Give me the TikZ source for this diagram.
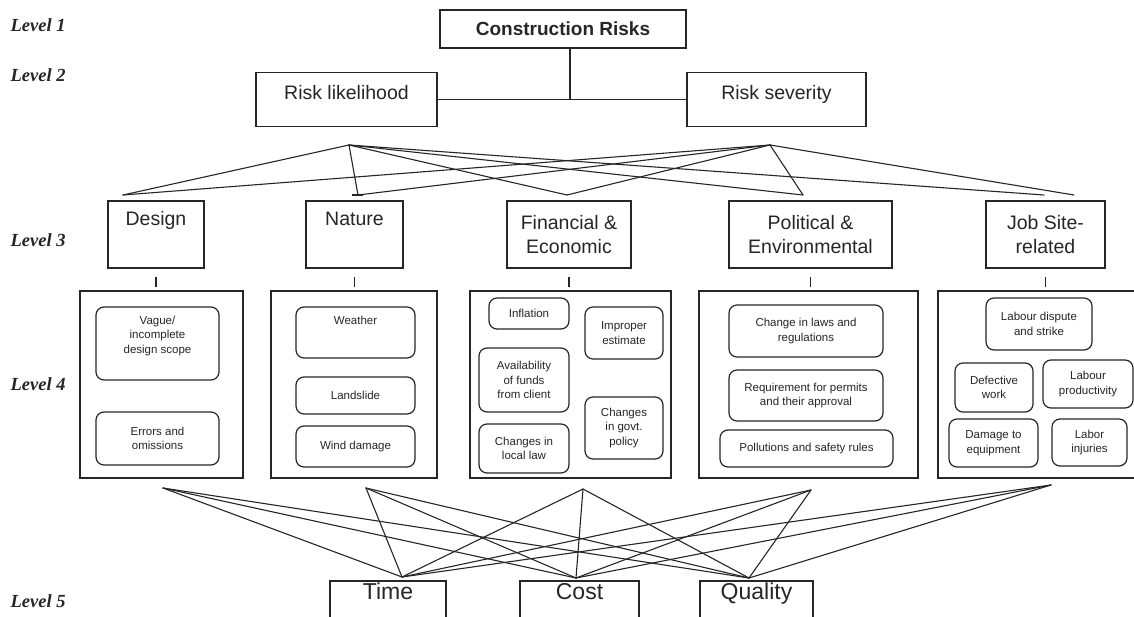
\documentclass[tikz,border=0pt]{standalone}
\usepackage{fontspec}
\setmainfont{Liberation Sans}
\newfontfamily\levelfont{Liberation Serif}

\begin{document}
\begin{tikzpicture}[x=1pt,y=-1pt,line width=1.2pt,color=black!85,
    top/.style={draw,inner sep=0pt,minimum height=54pt,text height=14pt,text depth=13pt,font=\fontsize{19.5}{23}\selectfont},
    cat/.style={draw,inner sep=0pt,align=center,minimum height=67pt,font=\fontsize{19.5}{24.5}\selectfont},
    group/.style={draw,inner sep=0pt,minimum height=187pt},
    risk/.style={draw,rounded corners=8pt,inner sep=0pt,align=center,font=\fontsize{11.5}{14.5}\selectfont},
    toptext/.style={anchor=north,inner sep=0pt,yshift=-9pt,align=center,font=\fontsize{11.5}{14.5}\selectfont},
    outcome/.style={draw,inner sep=0pt,minimum height=59pt,text height=16pt,text depth=38pt,font=\fontsize{23}{27}\selectfont},
    level/.style={anchor=base west,inner sep=0pt,font=\levelfont\bfseries\itshape\fontsize{18.5}{22}\selectfont},
    link/.style={line width=1.1pt,line cap=round,line join=round}]
    \fill[white] (0,0) rectangle (1134,617);
    \useasboundingbox (0,0) rectangle (1134,617);

    % level labels
    \node (l1) [level] at (10,32) {Level 1};
    \node (l2) [level] at (10,82) {Level 2};
    \node (l3) [level] at (10,247) {Level 3};
    \node (l4) [level] at (10,390) {Level 4};
    \node (l5) [level] at (10,607) {Level 5};

    % levels 1 and 2
    \node (cr) [draw,inner sep=0pt,minimum width=246pt,minimum height=38pt,font=\bfseries\fontsize{19}{23}\selectfont] at (563,29) {Construction Risks};
    \node (lik) [top,minimum width=181pt] at (346.5,99.5) {Risk likelihood};
    \node (sev) [top,minimum width=179pt] at (776.5,99.5) {Risk severity};
    \coordinate (crfoot) at ([xshift=7pt]cr.south);
    \draw (lik) -- (sev);
    \draw (crfoot) -- (crfoot |- lik.east);

    % level 3
    \node (design) [cat,minimum width=96pt] at (156,234.5) {Design\\\strut};
    \node (nature) [cat,minimum width=97pt] at (354.5,234.5) {Nature\\\strut};
    \node (fin) [cat,minimum width=124pt] at (569,234.5) {Financial \&\\Economic};
    \node (pol) [cat,minimum width=163pt] at (810.5,234.5) {Political \&\\Environmental};
    \node (job) [cat,minimum width=119pt] at (1045.5,234.5) {Job Site-\\related};
    \foreach \b in {design,nature,fin,pol,job}
        \draw ([yshift=-8pt]\b.south) -- ([yshift=-18pt]\b.south);

    \coordinate (likA) at (349,145);
    \coordinate (sevA) at (770,145);
    \coordinate (designT) at (123,195);
    \coordinate (natureT) at (358,195);
    \coordinate (finT) at (567,195);
    \coordinate (polT) at (803,195);
    \coordinate (jobL) at (1044,195);
    \coordinate (jobR) at (1074,195);
    \foreach \t in {designT,natureT,finT,polT,jobL}
        \draw[link] (likA) -- (\t);
    \foreach \t in {designT,natureT,finT,polT,jobR}
        \draw[link] (sevA) -- (\t);
    \draw ([xshift=-6pt]natureT) -- ([xshift=5pt]natureT);

    % level 4
    \node (dgrp) [group,minimum width=163pt] at (161.5,384.5) {};
    \node (ngrp) [group,minimum width=166pt] at (354,384.5) {};
    \node (fgrp) [group,minimum width=201pt] at (570.5,384.5) {};
    \node (pgrp) [group,minimum width=219pt] at (808.5,384.5) {};
    \node (jgrp) [group,minimum width=202pt] at (1039,384.5) {};

    \node (vague) [risk,minimum width=123pt,minimum height=73pt,
        label={[toptext]north:Vague/\\incomplete\\design scope}] at (157.5,343.5) {};
    \node (errors) [risk,minimum width=123pt,minimum height=53pt] at (157.5,438.5) {Errors and\\omissions};

    \node (weather) [risk,minimum width=119pt,minimum height=51pt,
        label={[toptext]north:Weather}] at (355.5,332.5) {};
    \node (landslide) [risk,minimum width=119pt,minimum height=37pt] at (355.5,395.5) {Landslide};
    \node (wind) [risk,minimum width=119pt,minimum height=41pt] at (355.5,446.5) {Wind damage};

    \node (inflation) [risk,minimum width=80pt,minimum height=31pt] at (529,313.5) {Inflation};
    \node (improper) [risk,minimum width=78pt,minimum height=52pt] at (624,333) {Improper\\estimate};
    \node (funds) [risk,minimum width=90pt,minimum height=64pt] at (524,380) {Availability\\of funds\\from client};
    \node (locallaw) [risk,minimum width=90pt,minimum height=49pt] at (524,448.5) {Changes in\\local law};
    \node (govt) [risk,minimum width=78pt,minimum height=62pt] at (624,428) {Changes\\in govt.\\policy};

    \node (laws) [risk,minimum width=154pt,minimum height=52pt] at (806,331) {Change in laws and\\regulations};
    \node (permits) [risk,minimum width=154pt,minimum height=51pt] at (806,395.5) {Requirement for permits\\and their approval};
    \node (pollution) [risk,minimum width=173pt,minimum height=37pt] at (806.5,448.5) {Pollutions and safety rules};

    \node (strike) [risk,minimum width=106pt,minimum height=52pt] at (1039,324) {Labour dispute\\and strike};
    \node (defective) [risk,minimum width=78pt,minimum height=49pt] at (994,387.5) {Defective\\work};
    \node (productivity) [risk,minimum width=90pt,minimum height=48pt] at (1088,384) {Labour\\productivity};
    \node (equipment) [risk,minimum width=89pt,minimum height=48pt] at (993.5,443) {Damage to\\equipment};
    \node (injuries) [risk,minimum width=75pt,minimum height=47pt] at (1089.5,442.5) {Labor\\injuries};

    % level 5
    \node (time) [outcome,minimum width=116pt] at (388,610.5) {Time};
    \node (cost) [outcome,minimum width=119pt] at (579.5,610.5) {Cost};
    \node (quality) [outcome,minimum width=113pt] at (756.5,610.5) {Quality};

    \coordinate (designB) at (163,488);
    \coordinate (natureB) at (366,488);
    \coordinate (finB) at (583,489);
    \coordinate (polB) at (811,490);
    \coordinate (jobB) at (1051,485);
    \coordinate (timeT) at (402,577);
    \coordinate (costT) at (576,578);
    \coordinate (qualT) at (749,578);
    \foreach \s in {designB,natureB,finB,polB,jobB}
        \foreach \t in {timeT,costT,qualT}
            \draw[link] (\s) -- (\t);
\end{tikzpicture}
\end{document}
